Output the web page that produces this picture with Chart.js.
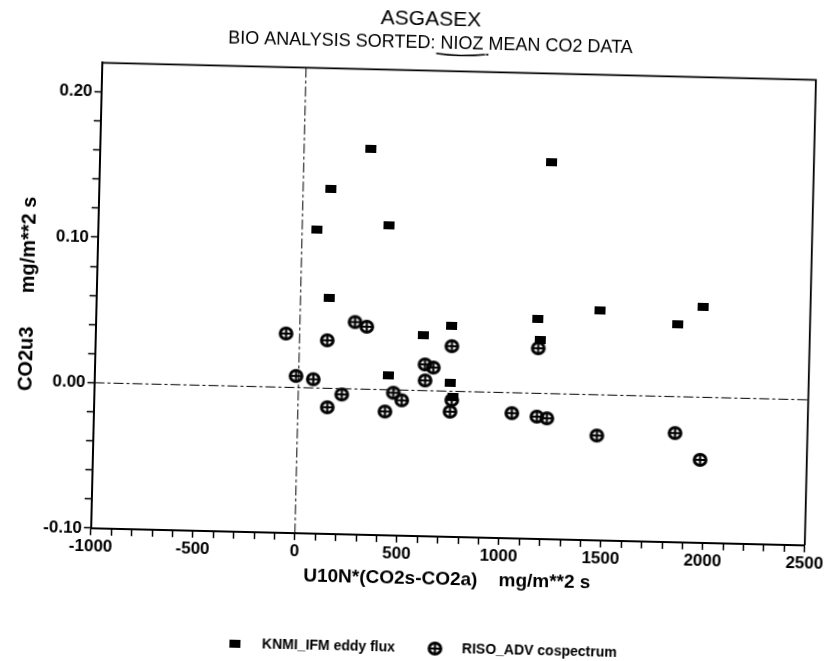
<!DOCTYPE html>
<html>
<head>
<meta charset="utf-8">
<title>ASGASEX</title>
<script src="https://cdn.jsdelivr.net/npm/chart.js@4"></script>
<style>
  html, body { margin: 0; padding: 0; background: #fff; overflow: hidden; }
  #wrap { width: 830px; height: 661px; }
  /* the printed sheet lies slightly skewed */
  #chart { display: block; transform: rotate(1.375deg); transform-origin: 50% 50%; }
</style>
</head>
<body>
<div id="wrap"><canvas id="chart" width="830" height="661"></canvas></div>
<script>
// KNMI_IFM eddy flux
const knmiX = [326, 1212, 136, 74, 424, 143, 1165, 744, 606, 1469, 1850, 1972, 1179, 439, 743, 759];
const knmiY = [0.165, 0.159, 0.137, 0.109, 0.113, 0.062, 0.051, 0.045, 0.038, 0.058, 0.050, 0.062, 0.037, 0.010, 0.006, -0.004];

// RISO_ADV cospectrum
const risoX = [-67, 136, 270, 328, -13, 72, 213, 144, 466, 508, 427, 747, 618, 659, 620, 753, 746, 1049, 1171, 1172, 1221, 1468, 1851, 1977];
const risoY = [0.037, 0.033, 0.046, 0.043, 0.008, 0.006, -0.004, -0.013, -0.002, -0.007, -0.015, 0.031, 0.018, 0.016, 0.007, -0.006, -0.014, -0.014, 0.031, -0.016, -0.017, -0.028, -0.025, -0.043];

// labelled ticks; the others are plain minor marks
const xLabels = [-1000, -500, 0, 500, 1000, 1500, 2000, 2500];
const yLabels = [-0.10, 0.00, 0.10, 0.20];

const FONT = "'Liberation Sans', Arial, Helvetica, sans-serif";
const SUBTITLE = 'BIO ANALYSIS SORTED: NIOZ MEAN CO2 DATA';

function pairs(xs, ys) {
    return xs.map((x, i) => ({ x: x, y: ys[i] }));
}

function squareMark() {
    const c = document.createElement('canvas');
    c.width = 11; c.height = 8;
    const g = c.getContext('2d');
    g.fillStyle = '#000';
    g.fillRect(0, 0, 11, 8);
    return c;
}

function crossCircleMark() {
    const c = document.createElement('canvas');
    c.width = 17; c.height = 16;
    const g = c.getContext('2d');
    g.strokeStyle = '#000';
    g.lineWidth = 3;
    g.beginPath();
    g.ellipse(8.5, 8, 5.9, 5.5, 0, 0, Math.PI * 2);
    g.stroke();
    g.lineWidth = 2.2;
    g.beginPath();
    g.moveTo(8.5, 3); g.lineTo(8.5, 13);
    g.moveTo(3.5, 8); g.lineTo(13.5, 8);
    g.stroke();
    return c;
}

// closes the box, draws the dashed zero lines and the pen mark under NIOZ
const framePlugin = {
    id: 'frame',
    beforeDatasetsDraw(chart) {
        const { ctx, chartArea: a, scales: { x, y } } = chart;
        const x0 = x.getPixelForValue(0);
        const y0 = y.getPixelForValue(0);
        ctx.save();
        ctx.strokeStyle = '#000';
        ctx.lineWidth = 1;
        ctx.setLineDash([10, 3, 3, 3]);
        ctx.beginPath();
        ctx.moveTo(x0, a.top); ctx.lineTo(x0, a.bottom);
        ctx.moveTo(a.left, y0); ctx.lineTo(a.right, y0);
        ctx.stroke();
        ctx.setLineDash([]);
        ctx.lineWidth = 1.8;
        ctx.beginPath();
        ctx.moveTo(a.left, a.top); ctx.lineTo(a.right, a.top); ctx.lineTo(a.right, a.bottom);
        ctx.stroke();
        ctx.restore();
    },
    afterDraw(chart) {
        const ctx = chart.ctx;
        const sub = chart.options.plugins.subtitle;
        const size = sub.font.size;
        const cx = (chart.options.layout.padding.left + chart.width) / 2;
        const cy = chart.chartArea.top - sub.padding.bottom - size * 0.6;
        ctx.save();
        ctx.font = 'normal ' + size + 'px ' + FONT;
        const full = ctx.measureText(SUBTITLE).width;
        const start = cx - full / 2 + ctx.measureText('BIO ANALYSIS SORTED: ').width;
        const end = start + ctx.measureText('NIOZ').width;
        ctx.strokeStyle = '#000';
        ctx.lineWidth = 1.3;
        ctx.beginPath();
        ctx.moveTo(start - 4, cy + 10);
        ctx.quadraticCurveTo((start + end) / 2, cy + 13, end + 2, cy + 10);
        ctx.stroke();
        ctx.fillStyle = '#000';
        ctx.fillRect(end + 3, cy + 9, 2, 2);
        ctx.restore();
    }
};

new Chart(document.getElementById('chart'), {
    type: 'scatter',
    data: {
        datasets: [
            {
                label: 'KNMI_IFM eddy flux',
                data: pairs(knmiX, knmiY),
                pointStyle: squareMark(),
                pointRadius: 5,
                order: 1
            },
            {
                label: 'RISO_ADV cospectrum',
                data: pairs(risoX, risoY),
                pointStyle: crossCircleMark(),
                pointRadius: 6,
                order: 0
            }
        ]
    },
    options: {
        responsive: false,
        animation: false,
        layout: { padding: { left: 17, right: 0, top: 0, bottom: -4 } },
        plugins: {
            tooltip: { enabled: false },
            title: {
                display: true,
                text: 'ASGASEX',
                color: '#000',
                font: { size: 21, weight: 'normal', family: FONT },
                padding: { top: 7, bottom: 0 }
            },
            subtitle: {
                display: true,
                text: SUBTITLE,
                color: '#000',
                font: { size: 18, weight: 'normal', family: FONT },
                padding: { top: 0, bottom: 16.5 }
            },
            legend: {
                position: 'bottom',
                labels: {
                    usePointStyle: true,
                    pointStyleWidth: 40,
                    padding: 20,
                    color: '#000',
                    font: { size: 14, weight: 'bold', family: FONT },
                    sort: (a, b) => a.datasetIndex - b.datasetIndex
                }
            }
        },
        scales: {
            x: {
                type: 'linear',
                min: -1000,
                max: 2500,
                ticks: {
                    stepSize: 100,
                    autoSkip: false,
                    maxRotation: 0,
                    padding: 1,
                    color: '#000',
                    font: { size: 17, weight: 'bold', family: FONT },
                    callback: v => {
                        const r = Math.round(v);
                        return xLabels.includes(r) ? String(r) : '';
                    }
                },
                grid: { drawOnChartArea: false, tickLength: 7, tickWidth: 1.5, tickColor: '#000' },
                border: { color: '#000', width: 2 },
                title: {
                    display: true,
                    text: 'U10N*(CO2s-CO2a)    mg/m**2 s',
                    color: '#000',
                    font: { size: 19, weight: 'bold', family: FONT },
                    padding: { top: 0, bottom: 30.7 }
                },
                afterFit(s) { s.height = 85.1; }
            },
            y: {
                type: 'linear',
                min: -0.1,
                max: 0.22,
                ticks: {
                    stepSize: 0.02,
                    autoSkip: false,
                    padding: 2,
                    color: '#000',
                    font: { size: 17, weight: 'bold', family: FONT },
                    callback: v => {
                        const r = Math.round(v * 100) / 100;
                        return yLabels.some(t => Math.abs(t - r) < 1e-9) ? r.toFixed(2) : '';
                    }
                },
                grid: {
                    drawOnChartArea: false,
                    tickLength: 7,
                    tickWidth: 1.5,
                    tickColor: c => (c.tick && Math.round(c.tick.value * 100) === 22) ? 'rgba(0,0,0,0)' : '#000'
                },
                border: { color: '#000', width: 2 },
                title: {
                    display: true,
                    text: 'CO2u3      mg/m**2 s',
                    color: '#000',
                    font: { size: 20, weight: 'bold', family: FONT, lineHeight: 1 },
                    padding: { top: 0, bottom: 0 }
                },
                afterFit(s) { s.width = 78.8; }
            },
            // empty strip on the right keeps the frame off the canvas edge
            y2: {
                type: 'linear',
                position: 'right',
                ticks: { display: false },
                grid: { display: false },
                border: { display: false },
                afterFit(s) { s.width = 20.2; }
            }
        }
    },
    plugins: [framePlugin]
});
</script>
</body>
</html>
